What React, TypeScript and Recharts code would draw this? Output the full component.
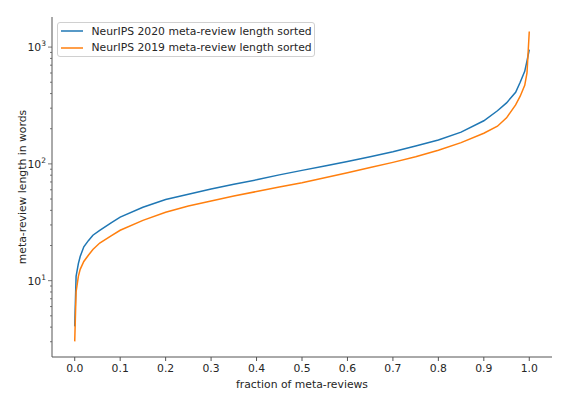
import { LineChart, Line, XAxis, YAxis, Legend } from 'recharts';

// fraction of meta-reviews (x), shared by both sorted curves
const fractions = [
  0, 0.003, 0.008, 0.012, 0.02, 0.03, 0.04, 0.055, 0.08, 0.1, 0.15, 0.2, 0.25, 0.3, 0.35, 0.4,
  0.45, 0.5, 0.55, 0.6, 0.65, 0.7, 0.75, 0.8, 0.85, 0.9, 0.93, 0.95, 0.97, 0.98, 0.99, 0.995, 1.0,
];

// NeurIPS 2020 meta-review length, words
const lengths2020 = [
  4.06, 10.9, 14, 16.1, 19.5, 22, 24.5, 27, 31.3, 35, 42.5, 49.5, 55, 61, 67, 73,
  80.5, 88, 96, 105, 115, 127, 142, 160, 187, 234, 285, 333, 410, 500, 620, 760, 950,
];

// NeurIPS 2019 meta-review length, words
const lengths2019 = [
  3.02, 8, 10.9, 12.5, 14.6, 16.5, 18.5, 21, 24.2, 27, 32.8, 38.5, 43.5, 48, 53, 58,
  63.3, 69, 76, 84, 93, 103, 115, 131, 152, 183, 210, 248, 320, 380, 470, 600, 1360,
];

const xTicks = [0, 0.1, 0.2, 0.3, 0.4, 0.5, 0.6, 0.7, 0.8, 0.9, 1.0];
const majorTicks = [10, 100, 1000];
const yTicks = [3, 4, 5, 6, 7, 8, 9, 10, 20, 30, 40, 50, 60, 70, 80, 90, 100, 200, 300, 400, 500, 600, 700, 800, 900, 1000];

const series = [
  { key: 'y2020', name: 'NeurIPS 2020 meta-review length sorted', color: '#1f77b4' },
  { key: 'y2019', name: 'NeurIPS 2019 meta-review length sorted', color: '#ff7f0e' },
];

const data = fractions.map((f, i) => ({ fraction: f, y2020: lengths2020[i], y2019: lengths2019[i] }));

const FONT = '"DejaVu Sans", sans-serif';
const FS = 10.8;
const AXIS = '#555';
const TEXT = '#262626';

// log axis tick: major ticks get a 10^n label, minor ticks only a short mark
const LogTick = (props: any) => {
  const { x, y, payload } = props;
  const v = payload.value;
  const major = majorTicks.includes(v);
  return (
    <g>
      <line x1={x} x2={x - (major ? 4 : 2)} y1={y} y2={y} stroke={AXIS} strokeWidth={0.8} />
      {major && (
        <text x={x - 6} y={y + 4} textAnchor="end" fontSize={FS} fontFamily={FONT} fill={TEXT}>
          10<tspan dy={-5} fontSize={7.5}>{Math.round(Math.log10(v))}</tspan>
        </text>
      )}
    </g>
  );
};

const LegendBox = () => (
  <div
    style={{
      width: 258,
      height: 35,
      boxSizing: 'border-box',
      border: '1px solid #d0d0d0',
      borderRadius: 3,
      background: 'rgba(255,255,255,0.8)',
      padding: '0 0 0 3px',
      fontFamily: FONT,
      fontSize: FS,
      color: TEXT,
    }}
  >
    {series.map((s) => (
      <div key={s.key} style={{ display: 'flex', alignItems: 'center', height: 16.5, whiteSpace: 'nowrap' }}>
        <svg width={22} height={4} style={{ marginRight: 8.5 }}>
          <line x1={0} x2={22} y1={2} y2={2} stroke={s.color} strokeWidth={1.5} />
        </svg>
        <span>{s.name}</span>
      </div>
    ))}
  </div>
);

export default function App() {
  return (
    <div style={{ position: 'absolute', left: 0, top: 0, background: '#fff' }}>
      <LineChart width={576} height={395} data={data} margin={{ top: 17, right: 24, bottom: 0, left: 0 }}>
        <XAxis
          dataKey="fraction"
          type="number"
          domain={[-0.05, 1.05]}
          ticks={xTicks}
          interval={0}
          tickFormatter={(v: number) => v.toFixed(1)}
          height={38}
          tickSize={4}
          tickMargin={3}
          stroke={AXIS}
          tick={{ fontSize: FS, fontFamily: FONT, fill: TEXT }}
          label={{ value: 'fraction of meta-reviews', position: 'insideBottom', offset: 7, fontSize: FS, fontFamily: FONT, fill: TEXT }}
        />
        <XAxis xAxisId="top" orientation="top" type="number" domain={[-0.05, 1.05]} height={0} tick={false} tickLine={false} stroke={AXIS} />
        <YAxis
          yAxisId="left"
          scale="log"
          type="number"
          domain={[2.22, 1810]}
          allowDataOverflow
          ticks={yTicks}
          interval={0}
          width={52}
          tickSize={0}
          tickMargin={0}
          tickLine={false}
          stroke={AXIS}
          tick={<LogTick />}
          label={{ value: 'meta-review length in words', angle: -90, position: 'insideLeft', offset: 22, style: { textAnchor: 'middle' }, fontSize: FS, fontFamily: FONT, fill: TEXT }}
        />
        <YAxis yAxisId="right" orientation="right" width={0} tick={false} tickLine={false} stroke={AXIS} />
        <Legend
          layout="vertical"
          align="center"
          verticalAlign="middle"
          wrapperStyle={{ left: 57, top: 22, width: 'auto' }}
          content={() => <LegendBox />}
        />
        {series.map((s) => (
          <Line
            key={s.key}
            yAxisId="left"
            dataKey={s.key}
            name={s.name}
            stroke={s.color}
            strokeWidth={1.5}
            dot={false}
            type="linear"
            isAnimationActive={false}
          />
        ))}
      </LineChart>
    </div>
  );
}
